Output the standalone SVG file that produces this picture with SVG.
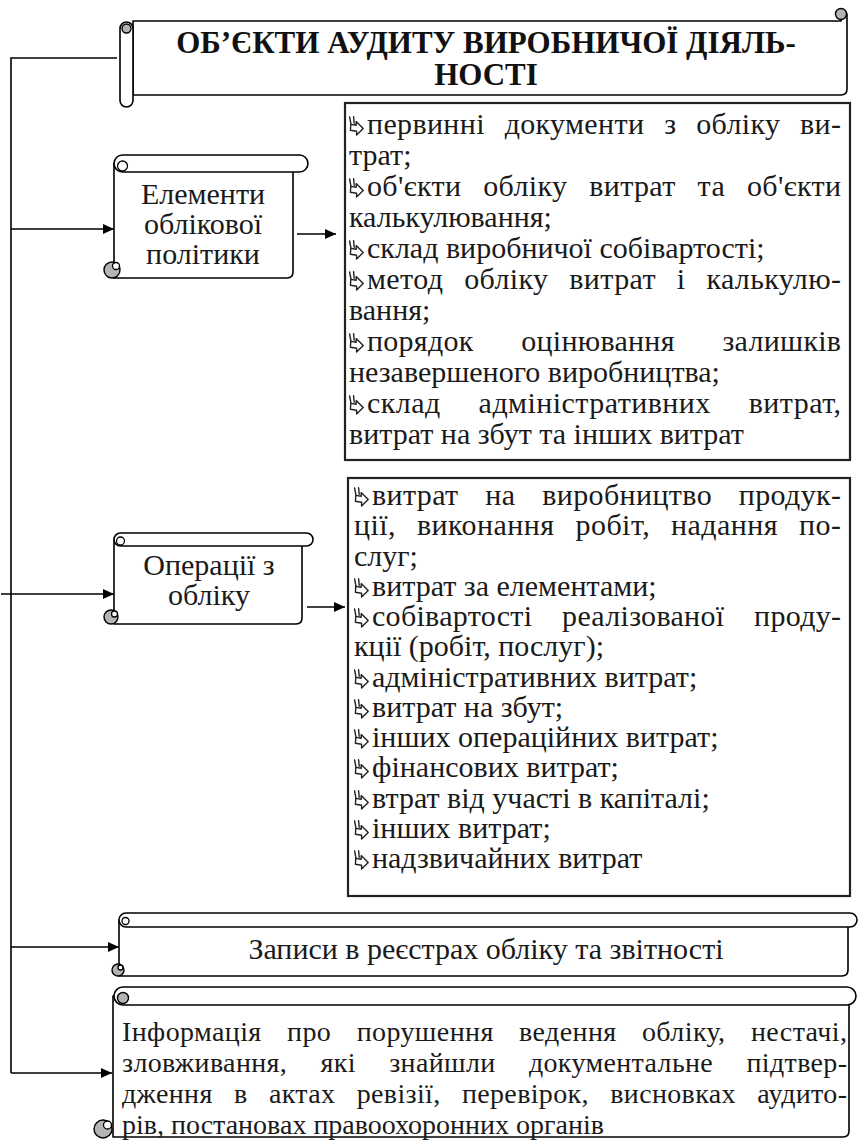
<svg xmlns="http://www.w3.org/2000/svg" width="859" height="1140" viewBox="0 0 859 1140">
<defs>
<style>
.ln{fill:none;stroke:#000;stroke-width:1.6}
.sh{fill:#fff;stroke:#000;stroke-width:1.6;stroke-linejoin:round}
.gr{fill:#b4b4b4;stroke:#000;stroke-width:1.4}
.wc{fill:#fff;stroke:#000;stroke-width:1.3}
.bx{fill:#fff;stroke:#222;stroke-width:2.2}
.t{font-family:"Liberation Serif","Times New Roman",serif;font-size:30px;fill:#1a1a1a}
.c{text-anchor:middle}
.ttl{font-weight:bold;font-size:31px;fill:#111}
.inf{font-size:28px}
.bu{fill:#fff;stroke:#222;stroke-width:1.4;stroke-linejoin:round;stroke-linecap:round}
</style>
<marker id="ah" markerUnits="userSpaceOnUse" markerWidth="11" markerHeight="10" refX="11" refY="5" orient="auto"><path d="M0,0 L11,5 L0,10 Z" fill="#000"/></marker>
<symbol id="bul" viewBox="0 0 16 20">
<path class="bu" d="M1.6,1 L3,8.4 M5.6,0.8 L6.2,7.2"/>
<path class="bu" d="M2.8,8.4 L8.2,9.2 L8.2,5.6 L15.2,12.6 L8.6,19 L8.6,15.2 L2.4,14.2 Z"/>
</symbol>
</defs>

<g id="connectors">
<path class="ln" d="M117,58 H11 V1073"/>
<path class="ln" d="M11,229 H114" marker-end="url(#ah)"/>
<path class="ln" d="M1,594 H114" marker-end="url(#ah)"/>
<path class="ln" d="M11,947 H119" marker-end="url(#ah)"/>
<path class="ln" d="M11,1073 H112" marker-end="url(#ah)"/>
<path class="ln" d="M297,234 H336" marker-end="url(#ah)"/>
<path class="ln" d="M307,607 H345" marker-end="url(#ah)"/>
</g>

<g id="title">
<path class="sh" d="M133,21 H841 V14 H847 V89 Q847,95 841,95 H133 Z"/>
<circle class="gr" cx="841" cy="14" r="5.5"/>
<rect class="sh" x="120" y="22" width="13" height="85" rx="6.5"/>
<circle class="gr" cx="126.5" cy="28.5" r="4.5"/>
<text class="t ttl c" x="486" y="53">ОБ’ЄКТИ АУДИТУ ВИРОБНИЧОЇ ДІЯЛЬ-</text>
<text class="t ttl c" x="486" y="85">НОСТІ</text>
</g>

<g id="elements">
<path class="sh" d="M114,163.5 V278 H287 Q293,278 293,272 V163.5 Z"/>
<path class="sh" d="M122.5,155 H299.5 A8.5,8.5 0 0 1 299.5,172 H122.5 A8.5,8.5 0 0 1 122.5,155 Z"/>
<circle class="wc" cx="122.5" cy="166" r="5"/>
<circle class="gr" cx="112" cy="270" r="8"/>
<circle class="wc" cx="116" cy="266" r="3.5"/>
<text class="t c" x="203" y="204">Елементи</text>
<text class="t c" x="203" y="234">облікової</text>
<text class="t c" x="203" y="264">політики</text>
</g>

<g id="elements-list">
<rect class="bx" x="345" y="103" width="505" height="357"/>
<use href="#bul" x="348" y="116" width="16" height="20"/>
<text class="t" x="367" y="134" textLength="474" lengthAdjust="spacing" word-spacing="12">первинні документи з обліку ви-</text>
<text class="t" x="349" y="165">трат;</text>
<use href="#bul" x="348" y="178" width="16" height="20"/>
<text class="t" x="367" y="196" textLength="474" lengthAdjust="spacing" word-spacing="14">об'єкти обліку витрат та об'єкти</text>
<text class="t" x="349" y="227">калькулювання;</text>
<use href="#bul" x="348" y="240" width="16" height="20"/>
<text class="t" x="367" y="258">склад виробничої собівартості;</text>
<use href="#bul" x="348" y="271" width="16" height="20"/>
<text class="t" x="367" y="289" textLength="474" lengthAdjust="spacing" word-spacing="13">метод обліку витрат і калькулю-</text>
<text class="t" x="349" y="320">вання;</text>
<use href="#bul" x="348" y="333" width="16" height="20"/>
<text class="t" x="367" y="351" textLength="474" lengthAdjust="spacing" word-spacing="40">порядок оцінювання залишків</text>
<text class="t" x="349" y="382">незавершеного виробництва;</text>
<use href="#bul" x="348" y="395" width="16" height="20"/>
<text class="t" x="367" y="413" textLength="474" lengthAdjust="spacing" word-spacing="30">склад адміністративних витрат,</text>
<text class="t" x="349" y="444">витрат на збут та інших витрат</text>
</g>

<g id="operations">
<path class="sh" d="M114,539.5 V624 H296 Q302,624 302,618 V539.5 Z"/>
<path class="sh" d="M120.5,533 H306.5 A6.5,6.5 0 0 1 306.5,546 H120.5 A6.5,6.5 0 0 1 120.5,533 Z"/>
<circle class="wc" cx="120.5" cy="541" r="4"/>
<circle class="gr" cx="111" cy="617" r="7"/>
<circle class="wc" cx="114.5" cy="614" r="3"/>
<text class="t c" x="209" y="575">Операції з</text>
<text class="t c" x="209" y="605">обліку</text>
</g>

<g id="operations-list">
<rect class="bx" x="348" y="478" width="502" height="418"/>
<use href="#bul" x="353" y="487" width="16" height="20"/>
<text class="t" x="372" y="505" textLength="469" lengthAdjust="spacing" word-spacing="19">витрат на виробництво продук-</text>
<text class="t" x="354" y="535" textLength="487" lengthAdjust="spacing" word-spacing="13">ції, виконання робіт, надання по-</text>
<text class="t" x="354" y="566">слуг;</text>
<use href="#bul" x="353" y="578" width="16" height="20"/>
<text class="t" x="372" y="596">витрат за елементами;</text>
<use href="#bul" x="353" y="608" width="16" height="20"/>
<text class="t" x="372" y="626" textLength="469" lengthAdjust="spacing" word-spacing="22">собівартості реалізованої проду-</text>
<text class="t" x="354" y="656">кції (робіт, послуг);</text>
<use href="#bul" x="353" y="669" width="16" height="20"/>
<text class="t" x="372" y="687">адміністративних витрат;</text>
<use href="#bul" x="353" y="699" width="16" height="20"/>
<text class="t" x="372" y="717">витрат на збут;</text>
<use href="#bul" x="353" y="729" width="16" height="20"/>
<text class="t" x="372" y="747">інших операційних витрат;</text>
<use href="#bul" x="353" y="759" width="16" height="20"/>
<text class="t" x="372" y="777">фінансових витрат;</text>
<use href="#bul" x="353" y="790" width="16" height="20"/>
<text class="t" x="372" y="808">втрат від участі в капіталі;</text>
<use href="#bul" x="353" y="820" width="16" height="20"/>
<text class="t" x="372" y="838">інших витрат;</text>
<use href="#bul" x="353" y="850" width="16" height="20"/>
<text class="t" x="372" y="868">надзвичайних витрат</text>
</g>

<g id="records">
<path class="sh" d="M119,920 V976 H842 Q848,976 848,970 V920 Z"/>
<path class="sh" d="M126,913 H850 A7,7 0 0 1 850,927 H126 A7,7 0 0 1 126,913 Z"/>
<circle class="wc" cx="125.5" cy="921" r="3.5"/>
<circle class="gr" cx="118" cy="970" r="6"/>
<circle class="wc" cx="120.5" cy="967.5" r="2.5"/>
<text class="t c" x="486" y="959">Записи в реєстрах обліку та звітності</text>
</g>

<g id="info">
<path class="sh" d="M113,996 V1137 H843 Q849,1137 849,1131 V996 Z"/>
<path class="sh" d="M123,987 H847 A9,9 0 0 1 847,1005 H123 A9,9 0 0 1 123,987 Z"/>
<circle class="gr" cx="123" cy="998" r="5.5"/>
<circle class="gr" cx="103" cy="1129" r="9"/>
<circle class="wc" cx="107.5" cy="1125" r="4"/>
<text class="t inf" x="122" y="1041" textLength="725" lengthAdjust="spacing" word-spacing="18">Інформація про порушення ведення обліку, нестачі,</text>
<text class="t inf" x="122" y="1072" textLength="725" lengthAdjust="spacing" word-spacing="26">зловживання, які знайшли документальне підтвер-</text>
<text class="t inf" x="122" y="1103" textLength="725" lengthAdjust="spacing" word-spacing="14">дження в актах ревізії, перевірок, висновках аудито-</text>
<text class="t inf" x="122" y="1134">рів, постановах правоохоронних органів</text>
</g>
</svg>
